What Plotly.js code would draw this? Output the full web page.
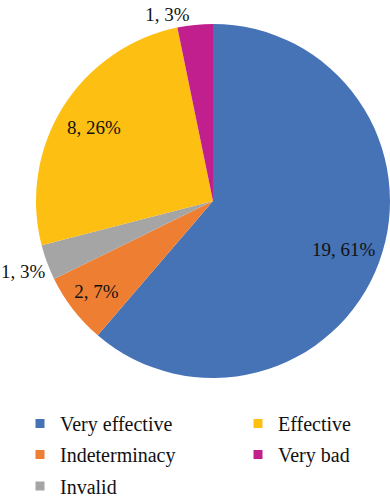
<!DOCTYPE html>
<html><head><meta charset="utf-8">
<script src="https://cdn.plot.ly/plotly-3.0.1.min.js"></script>
<style>html,body{margin:0;padding:0;background:#fff}#chart{width:390px;height:500px}</style>
</head><body><div id="chart"></div>
<script>
const categories = ['Very effective', 'Indeterminacy', 'Invalid', 'Effective', 'Very bad'];
const counts = [19, 2, 1, 8, 1];
const percentLabels = ['61%', '7%', '3%', '26%', '3%'];
const colors = ['#4672B6', '#EE7F32', '#A5A5A5', '#FDBF12', '#C21F8E'];
const legendOrder = ['Very effective', 'Effective', 'Indeterminacy', 'Very bad', 'Invalid'];

const FONT = 'Liberation Serif, Times New Roman, serif';
const W = 390, H = 500;
const colorOf = {};
categories.forEach((c, i) => colorOf[c] = colors[i]);

// label placement per slice: Plotly-drawn ('inside'/'outside') or an annotation on the slice's mid-angle
const labelMode = ['ann', 'inside', 'ann', 'ann', 'outside'];
const annRadius = [0.79, 0, 1.14, 0.79, 0];   // fraction of the pie radius

const pie = {
  type: 'pie',
  labels: categories,
  values: counts,
  text: percentLabels,
  texttemplate: '%{value}, %{text}',
  textposition: labelMode.map(m => m === 'ann' ? 'none' : m),
  insidetextorientation: 'horizontal',
  sort: false,
  direction: 'clockwise',
  rotation: 0,
  marker: {colors: colors, line: {width: 0}},
  textfont: {family: FONT, size: 19, color: '#111'},
  insidetextfont: {family: FONT, size: 19, color: '#111'},
  outsidetextfont: {family: FONT, size: 19, color: '#111'},
  showlegend: false,
  hoverinfo: 'none',
  domain: {x: [36 / W, 1], y: [1 - 378 / H, 1 - 24 / H]}
};

const legendNames = ['legend', 'legend2', 'legend3', 'legend4', 'legend5'];
const legendTraces = legendOrder.map((name, i) => ({
  type: 'scatter', mode: 'markers', x: [null], y: [null], name: name,
  marker: {symbol: 'square', size: 9, color: colorOf[name]},
  legend: legendNames[i], showlegend: true, hoverinfo: 'none'
}));

function leg(xpx, ypx) {
  return {orientation: 'h', x: xpx / W, xanchor: 'left', y: 1 - ypx / H, yanchor: 'middle',
    font: {family: FONT, size: 20, color: '#111'},
    bgcolor: 'rgba(0,0,0,0)', borderwidth: 0};
}
const col1 = 20, col2 = 238;
const rowY = [423.5, 454.5, 486];

const layout = {
  width: W, height: H,
  margin: {l: 0, r: 0, t: 0, b: 0, autoexpand: false},
  paper_bgcolor: '#fff', plot_bgcolor: '#fff',
  showlegend: true,
  xaxis: {visible: false}, yaxis: {visible: false},
  legend: leg(col1, rowY[0]),
  legend2: leg(col2, rowY[0]),
  legend3: leg(col1, rowY[1]),
  legend4: leg(col2, rowY[1]),
  legend5: leg(col1, rowY[2])
};

Plotly.newPlot('chart', [pie].concat(legendTraces), layout, {displayModeBar: false, staticPlot: true}).then(gd => {
  const cd0 = gd.calcdata[0][0];
  const cx = cd0.cx, cy = cd0.cy, r = cd0.r;
  const total = counts.reduce((a, b) => a + b, 0);
  let cum = 0;
  const anns = [];
  counts.forEach((v, i) => {
    const mid = (cum + v / 2) / total * 2 * Math.PI;
    cum += v;
    if (labelMode[i] !== 'ann') return;
    const px = cx + annRadius[i] * r * Math.sin(mid);
    const py = cy - annRadius[i] * r * Math.cos(mid);
    anns.push({xref: 'paper', yref: 'paper', x: px / W, y: 1 - py / H, showarrow: false,
      text: counts[i] + ', ' + percentLabels[i], font: {family: FONT, size: 19, color: '#111'},
      xanchor: 'center', yanchor: 'middle'});
  });
  return Plotly.relayout(gd, {annotations: anns});
});
</script></body></html>
